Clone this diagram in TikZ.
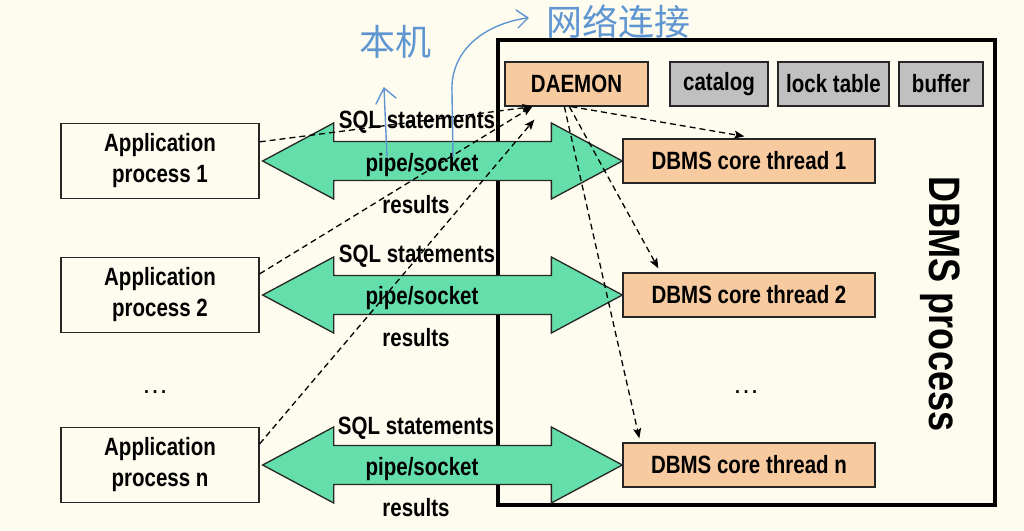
\documentclass[tikz,border=0pt]{standalone}
\usepackage{fontspec}
\setmainfont[FakeStretch=0.82]{Liberation Sans}
\newfontfamily\cjk{Noto Sans CJK SC}
\newfontfamily\plainsans{Liberation Sans}
\usetikzlibrary{calc,arrows.meta}
\definecolor{bg}{RGB}{254,252,238}
\definecolor{fatgreen}{RGB}{100,222,170}
\definecolor{peach}{RGB}{247,202,160}
\definecolor{lgray}{RGB}{192,192,192}
\definecolor{ink}{RGB}{95,150,210}
\newcommand\fatarr[2]{%
  \path[fat] let \p1=($(#1.east)+(3,0)$), \p2=(#2.west) in
    (\p1) -- (\x1+71pt,\y1+38pt) -- (\x1+71pt,\y1+19.5pt) -- (\x2-71pt,\y1+19.5pt)
    -- (\x2-71pt,\y1+38pt) -- (\x2,\y1) -- (\x2-71pt,\y1-38pt) -- (\x2-71pt,\y1-19.5pt)
    -- (\x1+71pt,\y1-19.5pt) -- (\x1+71pt,\y1-38pt) -- cycle;}
\begin{document}
\begin{tikzpicture}[x=1pt,y=-1pt,
  box/.style={draw=black!85, line width=1.3pt, inner sep=0pt, font=\fontsize{25}{31}\selectfont\bfseries, align=center},
  appbox/.style={box, fill=bg, minimum width=198pt, minimum height=75pt},
  thbox/.style={box, fill=peach, minimum width=252pt, minimum height=44pt},
  topbox/.style={box, minimum height=44pt},
  fat/.style={fill=fatgreen, draw=black!85, line width=1.3pt, line join=miter},
  lbl/.style={font=\fontsize{25}{30}\selectfont\bfseries, inner sep=0pt},
  dsh/.style={line width=1.3pt, dash pattern=on 6pt off 4pt, -{Stealth[length=10pt,width=8pt,inset=2pt]}},
  hand/.style={draw=ink, line width=1.4pt, line cap=round, line join=round}
]
\fill[bg] (0,0) rectangle (1024,530);
\useasboundingbox (0,0) rectangle (1024,530);

% DBMS process frame
\draw[line width=4.5pt] (498,40) rectangle (995,505);

% application boxes
\node[appbox] (a1) at (160,161) {Application\\process 1};
\node[appbox] (a2) at (160,295) {Application\\process 2};
\node[appbox] (an) at (160,465) {Application\\process n};

% thread boxes
\node[thbox] (t1) at (749,161) {DBMS core thread 1};
\node[thbox] (t2) at (749,295) {DBMS core thread 2};
\node[thbox] (tn) at (749,465) {DBMS core thread n};

% top boxes
\node[topbox, fill=peach, minimum width=143pt] (dm) at (576.5,84) {DAEMON};
\node[topbox, fill=lgray, minimum width=98pt] (cat) at (719,84) {catalog};
\node[topbox, fill=lgray, minimum width=111pt] (lock) at (833.5,84) {lock table};
\node[topbox, fill=lgray, minimum width=84pt] (buf) at (941,84) {buffer};

% fat double arrows
\fatarr{a1}{t1}
\fatarr{a2}{t2}
\fatarr{an}{tn}

% dashed connectors
\draw[dsh] ($(a1.north east)+(0,19)$) -- ($(dm.south west)+(28,0)$);
\draw[dsh] ($(a2.north east)+(0,17)$) -- ($(dm.south west)+(28,0)$);
\draw[dsh] ($(an.north east)+(0,17)$) -- ($(dm.south west)+(30,13)$);
\draw[dsh] ($(dm.south west)+(67,0)$) -- ($(t1.north west)+(122,-2)$);
\draw[dsh] ($(dm.south west)+(65,0)$) -- ($(t2.north west)+(36,-4)$);
\draw[dsh] ($(dm.south west)+(60,0)$) -- ($(tn.north west)+(17,-4)$);

% arrow labels
\node[lbl] (s1) at (417,122) {SQL statements};
\node[lbl] (p1) at (422,165) {pipe/socket};
\node[lbl] (r1) at (416,205) {results};
\node[lbl] (s2) at (417,256) {SQL statements};
\node[lbl] (p2) at (422,298) {pipe/socket};
\node[lbl] (r2) at (416,338) {results};
\node[lbl] (sn) at (416,428) {SQL statements};
\node[lbl] (pn) at (422,469) {pipe/socket};
\node[lbl] (rn) at (416,508) {results};

% DBMS process title
\node[font=\fontsize{44}{44}\selectfont\bfseries, rotate=-90, inner sep=0pt] (title) at (940,304) {DBMS process};

% ellipses
\node[font=\plainsans\fontsize{27}{27}\selectfont, inner sep=0pt] (d1) at (155,392) {…};
\node[font=\plainsans\fontsize{27}{27}\selectfont, inner sep=0pt] (d2) at (746,392) {…};

% handwriting
\draw[hand] (387,157) -- (384,88);
\draw[hand] (376,104) -- (384,88) -- (396,98);
\draw[hand] (453,157) -- (452,92) .. controls (450,50) and (485,24) .. (527,18);
\draw[hand] (516,10) -- (528,18) -- (518,28);
\node[text=ink, font=\cjk\fontsize{36}{36}\selectfont, inner sep=0pt] (h1) at (395,42) {本机};
\node[text=ink, font=\cjk\fontsize{36}{36}\selectfont, inner sep=0pt] (h2) at (618,22) {网络连接};
\end{tikzpicture}
\end{document}
